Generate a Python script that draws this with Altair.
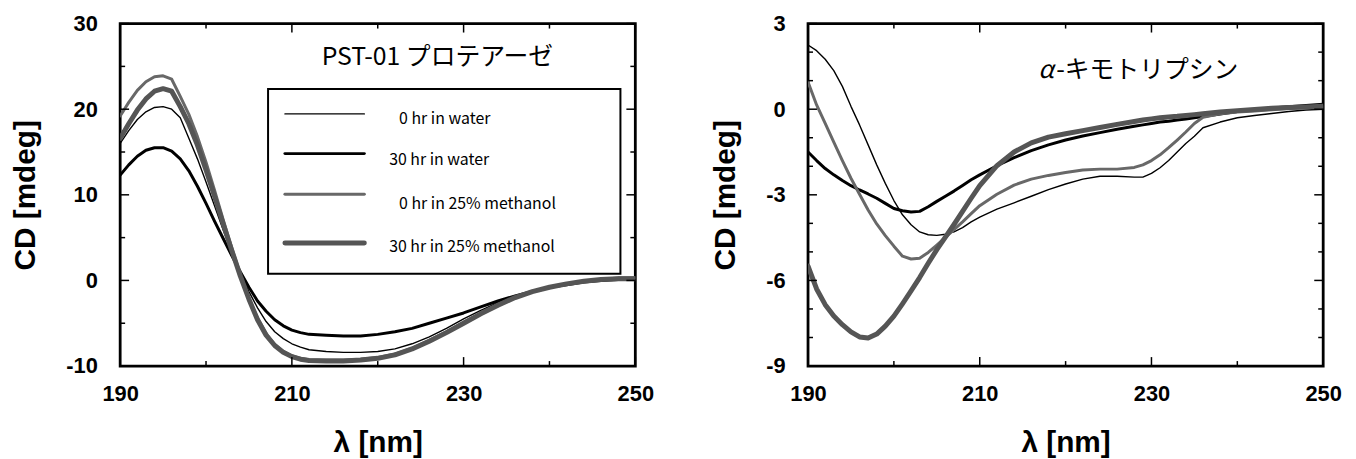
import altair as alt
import pandas as pd

# ---------------- data ----------------
series_names = ["0 hr in water", "30 hr in water", "0 hr in 25% methanol", "30 hr in 25% methanol"]
series_colors = ["#000000", "#000000", "#686868", "#555555"]
series_widths = [1.4, 3.0, 3.0, 5.0]

# Left panel: PST-01 protease
pst_nm = [190, 191, 192, 193, 194, 195, 196, 197, 198, 199, 200, 201, 202, 203, 204, 205,
          206, 207, 208, 209, 210, 211, 212,
          214, 216, 218, 220, 222, 224, 226, 228, 230, 232, 234, 236, 238, 240, 242, 244, 246, 248, 250]
pst_water_0h = [16.0, 17.5, 18.8, 19.7, 20.2, 20.3, 20.0, 19.0, 16.6, 14.2, 11.5, 8.7, 5.9, 3.3, 0.9, -1.3,
                -3.2, -4.8, -6.0, -6.8, -7.4, -7.8, -8.1,
                -8.3, -8.4, -8.4, -8.3, -8.0, -7.4, -6.6, -5.6, -4.5, -3.5, -2.6, -1.9, -1.3, -0.8, -0.5, -0.2, 0.0, 0.1, 0.1]
pst_water_30h = [12.3, 13.5, 14.5, 15.2, 15.5, 15.5, 15.1, 14.2, 12.8, 11.0, 9.0, 6.9, 4.9, 2.9, 1.0, -0.8,
                 -2.4, -3.6, -4.6, -5.3, -5.8, -6.1, -6.3,
                 -6.4, -6.5, -6.5, -6.3, -6.0, -5.6, -5.0, -4.4, -3.8, -3.1, -2.4, -1.8, -1.3, -0.8, -0.5, -0.2, 0.0, 0.1, 0.2]
pst_meoh_0h = [19.2, 20.8, 22.2, 23.2, 23.8, 23.9, 23.5, 21.5, 19.4, 16.8, 13.8, 10.5, 7.1, 3.8, 0.7, -2.1,
               -4.4, -6.2, -7.5, -8.3, -8.8, -9.1, -9.25,
               -9.3, -9.3, -9.2, -9.0, -8.6, -7.9, -7.0, -6.0, -4.9, -3.8, -2.8, -2.0, -1.3, -0.8, -0.4, -0.1, 0.1, 0.3, 0.3]
pst_meoh_30h = [16.6, 18.3, 19.9, 21.2, 22.1, 22.4, 22.1, 20.3, 18.3, 15.8, 12.9, 9.8, 6.6, 3.5, 0.5, -2.2,
                -4.6, -6.4, -7.6, -8.4, -8.9, -9.2, -9.35,
                -9.4, -9.4, -9.3, -9.1, -8.7, -8.0, -7.1, -6.1, -5.0, -3.9, -2.9, -2.0, -1.3, -0.8, -0.4, -0.1, 0.1, 0.2, 0.2]

# Right panel: alpha-chymotrypsin
chy_nm = [190, 191, 192, 193, 194, 195, 196, 197, 198, 199, 200, 201, 202, 203, 204, 205, 206, 207, 208, 209, 210,
          212, 214, 216, 218, 220, 222, 224, 226, 228,
          229, 230, 231, 232, 233, 234, 235, 236,
          238, 240, 242, 244, 246, 248, 250]
chy_water_0h = [2.25, 2.05, 1.75, 1.35, 0.8, 0.1, -0.55, -1.25, -1.95, -2.6, -3.2, -3.7, -4.05, -4.3, -4.4, -4.42,
                -4.38, -4.3, -4.15, -3.95, -3.78,
                -3.5, -3.28, -3.05, -2.82, -2.62, -2.45, -2.35, -2.35, -2.38,
                -2.38, -2.25, -2.05, -1.8, -1.5, -1.2, -0.95, -0.65,
                -0.45, -0.3, -0.22, -0.15, -0.08, -0.03, 0.0]
chy_water_30h = [-1.5, -1.8, -2.08, -2.3, -2.5, -2.68, -2.83, -2.97, -3.12, -3.3, -3.48, -3.56, -3.6, -3.58, -3.42,
                 -3.23, -3.05, -2.87, -2.67, -2.47, -2.3,
                 -1.98, -1.7, -1.45, -1.25, -1.08, -0.94, -0.82, -0.7, -0.6,
                 -0.55, -0.5, -0.45, -0.42, -0.38, -0.34, -0.3, -0.26,
                 -0.17, -0.08, -0.02, 0.04, 0.09, 0.13, 0.17]
chy_meoh_0h = [0.95, 0.15, -0.5, -1.15, -1.8, -2.42, -2.98, -3.53, -4.02, -4.43, -4.8, -5.15, -5.25, -5.22, -5.02,
               -4.76, -4.49, -4.22, -3.95, -3.66, -3.38,
               -2.98, -2.66, -2.45, -2.32, -2.22, -2.13, -2.1, -2.1, -2.04,
               -1.95, -1.8, -1.6, -1.35, -1.08, -0.8, -0.5, -0.28,
               -0.16, -0.1, -0.06, -0.02, 0.02, 0.05, 0.08]
chy_meoh_30h = [-5.5, -6.3, -6.85, -7.25, -7.55, -7.8, -7.98, -8.02, -7.88, -7.6, -7.25, -6.82, -6.37, -5.9, -5.4,
                -4.92, -4.48, -4.04, -3.58, -3.12, -2.68,
                -1.98, -1.5, -1.18, -0.98, -0.86, -0.75, -0.64, -0.53, -0.43,
                -0.38, -0.34, -0.3, -0.27, -0.25, -0.22, -0.19, -0.16,
                -0.1, -0.05, -0.01, 0.03, 0.06, 0.08, 0.1]

# axis tick values
x_labels = [190, 210, 230, 250]
x_major_ticks = [190, 210, 230, 250]
x_minor_ticks = [200, 220, 240]
pst_y_labels = [-10, 0, 10, 20, 30]
pst_y_minor = [-5, 5, 15, 25]
chy_y_labels = [-9, -6, -3, 0, 3]
chy_y_minor = [-8, -7, -5, -4, -2, -1, 1, 2]

pst_title = "PST-01 プロテアーゼ"
chy_title_greek = "α"
chy_title_rest = "-キモトリプシン"
x_title = "λ [nm]"
y_title = "CD [mdeg]"

# ---------------- chart ----------------
W, H = 519, 345
MAJOR, MINOR = 9, 5
LABEL_FONT = "Liberation Sans"
JP_FONT = "Noto Sans CJK JP"


def build_df(nm, series_values):
    frames = []
    for name, vals in zip(series_names, series_values):
        frames.append(pd.DataFrame({"nm": nm, "cd": vals, "series": name}))
    return pd.concat(frames, ignore_index=True)


def panel(df, ydomain, ylabels, yminor, annotations, legend=False):
    xscale = alt.Scale(domain=[190, 250], nice=False, zero=False)
    yscale = alt.Scale(domain=ydomain, nice=False, zero=False)
    common_axis = dict(labelFont=LABEL_FONT, labelFontWeight="bold", labelFontSize=22, labelColor="black",
                       titleFont=LABEL_FONT, titleFontWeight="bold", titleFontSize=30, titleColor="black",
                       ticks=False, tickSize=0, domain=False, grid=False, labelExpr="'' + datum.value",
                       labelFlush=False, labelOverlap=False)
    xaxis = alt.Axis(values=x_labels, title=x_title, labelPadding=18, titlePadding=23, **common_axis)
    yaxis = alt.Axis(values=ylabels, title=y_title, labelPadding=23, titlePadding=26, **common_axis)

    layers = []
    for i, name in enumerate(series_names):
        sub = df[df["series"] == name]
        layers.append(alt.Chart(sub).mark_line(color=series_colors[i], strokeWidth=series_widths[i],
                                               strokeJoin="round", strokeCap="round", clip=True).encode(
            x=alt.X("nm:Q", scale=xscale, axis=xaxis, title=x_title),
            y=alt.Y("cd:Q", scale=yscale, axis=yaxis, title=y_title)))

    # inward tick marks on all four sides
    def xt(vals, length):
        d = pd.DataFrame({"nm": vals})
        bottom = alt.Chart(d).mark_rule(color="black", strokeWidth=1.5).encode(
            x=alt.X("nm:Q", scale=xscale, axis=xaxis, title=x_title), y=alt.value(H), y2=alt.value(H - length))
        top = alt.Chart(d).mark_rule(color="black", strokeWidth=1.5).encode(
            x=alt.X("nm:Q", scale=xscale, axis=xaxis, title=x_title), y=alt.value(0), y2=alt.value(length))
        return [bottom, top]

    def yt(vals, length):
        d = pd.DataFrame({"cd": vals})
        left = alt.Chart(d).mark_rule(color="black", strokeWidth=1.5).encode(
            y=alt.Y("cd:Q", scale=yscale, axis=yaxis, title=y_title), x=alt.value(0), x2=alt.value(length))
        right = alt.Chart(d).mark_rule(color="black", strokeWidth=1.5).encode(
            y=alt.Y("cd:Q", scale=yscale, axis=yaxis, title=y_title), x=alt.value(W), x2=alt.value(W - length))
        return [left, right]

    layers += xt(x_major_ticks, MAJOR) + xt(x_minor_ticks, MINOR) + yt(ylabels, MAJOR) + yt(yminor, MINOR)

    one = pd.DataFrame({"k": [0]})
    for text, px, py, size, style in annotations:
        layers.append(alt.Chart(one).mark_text(text=text, align="left", baseline="middle", font=JP_FONT,
                                               fontSize=size, fontStyle=style, color="black").encode(
            x=alt.value(px), y=alt.value(py)))

    if legend:
        sym_x0, sym_x1 = 166, 246
        sym_y = [91, 131, 172, 221]
        lab_x = [281, 271, 281, 271]
        lab_y = [96, 137, 182, 225]
        layers.append(alt.Chart(one).mark_rect(fill="white", fillOpacity=0, stroke="black", strokeWidth=2).encode(
            x=alt.value(149), x2=alt.value(504), y=alt.value(66), y2=alt.value(252)))
        for i, name in enumerate(series_names):
            layers.append(alt.Chart(one).mark_rule(color=series_colors[i], strokeWidth=series_widths[i],
                                                   strokeCap="round").encode(
                x=alt.value(sym_x0), x2=alt.value(sym_x1), y=alt.value(sym_y[i])))
            layers.append(alt.Chart(one).mark_text(text=name, align="left", baseline="middle", font=JP_FONT,
                                                   fontSize=16, color="black").encode(
                x=alt.value(lab_x[i]), y=alt.value(lab_y[i])))

    return alt.layer(*layers).properties(width=W, height=H)


left = panel(build_df(pst_nm, [pst_water_0h, pst_water_30h, pst_meoh_0h, pst_meoh_30h]),
             [-10, 30], pst_y_labels, pst_y_minor,
             [(pst_title, 203, 34, 25, "normal")], legend=True)
right = panel(build_df(chy_nm, [chy_water_0h, chy_water_30h, chy_meoh_0h, chy_meoh_30h]),
              [-9, 3], chy_y_labels, chy_y_minor,
              [(chy_title_greek, 232, 47, 25, "italic"), (chy_title_rest, 250, 47, 25, "normal")])

chart = alt.hconcat(left, right, spacing=54).properties(
    padding={"left": 0, "top": 1, "right": 5, "bottom": 5},
    background="white",
).configure_view(stroke="black", strokeWidth=2.8)

chart.save("out.html", embed_options={"renderer": "svg", "actions": False})
